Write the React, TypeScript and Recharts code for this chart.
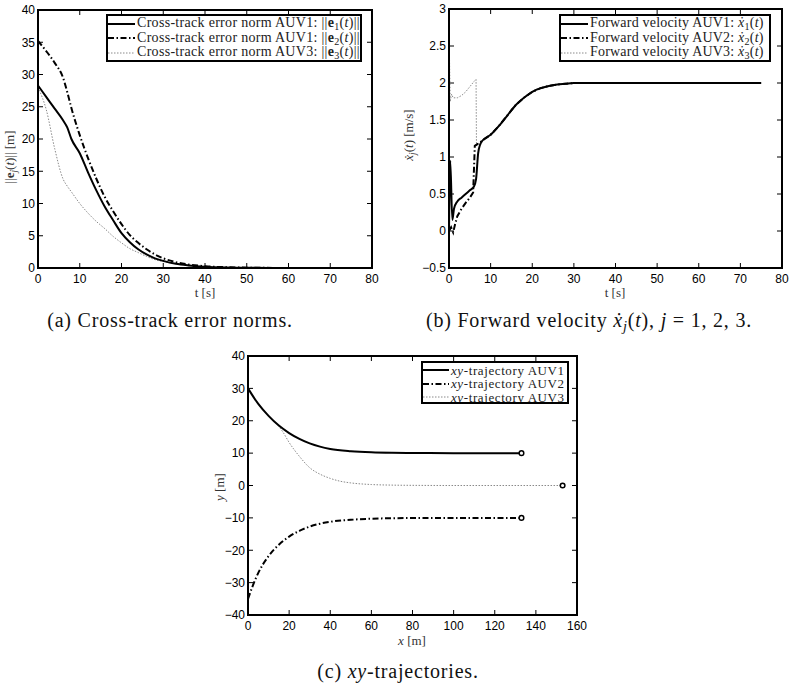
import React from 'react';
import { LineChart, Line, XAxis, YAxis } from 'recharts';

// ---------- (a) cross-track error norms ----------
const timeA = [0, 2, 4, 6, 7, 8, 10, 12, 14, 16, 18, 20, 22, 24, 26, 28, 30, 33, 36, 40, 45, 50, 60, 75];
const errNormAUV1 = [28.3, 26.5, 24.7, 22.9, 21.8, 20.0, 17.8, 14.8, 12.0, 9.5, 7.4, 5.4, 4.0, 2.9, 2.1, 1.5, 1.1, 0.65, 0.4, 0.2, 0.08, 0.03, 0.01, 0];
const errNormAUV2 = [35.2, 33.6, 31.8, 29.5, 27.3, 24.8, 20.6, 17.0, 13.8, 11.0, 8.8, 6.8, 5.1, 3.9, 2.9, 2.1, 1.5, 0.9, 0.55, 0.28, 0.12, 0.05, 0.01, 0];
const errNormAUV3 = [28.0, 24.5, 18.5, 13.8, 12.7, 11.8, 10.0, 8.5, 7.2, 6.1, 4.9, 3.9, 3.0, 2.4, 1.8, 1.3, 1.0, 0.7, 0.45, 0.2, 0.1, 0.05, 0.01, 0];
const ticksAx = [0, 10, 20, 30, 40, 50, 60, 70, 80];
const ticksAy = [0, 5, 10, 15, 20, 25, 30, 35, 40];
const legendA = ['Cross-track error norm AUV1:', 'Cross-track error norm AUV1:', 'Cross-track error norm AUV3:'];

// ---------- (b) forward velocity ----------
const velTailTime = [8, 10, 12, 14, 16, 18, 20, 22, 24, 26, 28, 30, 40, 50, 60, 75];
const velTail = [1.22, 1.3, 1.42, 1.56, 1.7, 1.8, 1.88, 1.93, 1.96, 1.98, 1.99, 2.0, 2.0, 2.0, 2.0, 2.0];
const velTimeAUV1 = [0, 0.3, 0.8, 1.2, 2, 3, 4, 5, 6, 6.5, 7, 7.5];
const velAUV1 = [0, 0.95, 0.15, 0.3, 0.4, 0.45, 0.5, 0.55, 0.6, 0.7, 1.05, 1.17];
const velTimeAUV2 = [0, 0.5, 1, 1.5, 2, 3, 4, 5, 5.8, 6.2, 7, 7.5];
const velAUV2 = [0, 0.05, -0.02, 0.1, 0.2, 0.3, 0.38, 0.45, 0.52, 1.15, 1.18, 1.2];
const velTimeAUV3 = [0, 0.3, 0.6, 1, 2, 3, 4, 5, 6, 6.5, 6.6, 7, 7.5];
const velAUV3 = [2.72, 1.75, 1.85, 1.8, 1.8, 1.83, 1.88, 1.95, 2.02, 2.05, 1.15, 1.18, 1.2];
const ticksBx = [0, 10, 20, 30, 40, 50, 60, 70, 80];
const ticksBy = [-0.5, 0, 0.5, 1, 1.5, 2, 2.5, 3];
const legendB = ['Forward velocity AUV1:', 'Forward velocity AUV2:', 'Forward velocity AUV3:'];

// ---------- (c) xy trajectories ----------
const trajX1 = [0, 5, 10, 15, 20, 25, 30, 35, 40, 50, 60, 70, 80, 100, 133];
const trajY1 = [30, 25.2, 21.5, 18.5, 16.2, 14.4, 13, 12, 11.3, 10.6, 10.25, 10.1, 10.05, 10, 10];
const trajX2 = [0, 2, 5, 10, 15, 20, 25, 30, 35, 40, 50, 60, 70, 80, 100, 133];
const trajY2 = [-35, -31.5, -27, -21.8, -18.3, -15.8, -14, -12.7, -11.8, -11.2, -10.6, -10.25, -10.1, -10.05, -10, -10];
const trajX3 = [0, 5, 10, 14, 17, 20, 25, 30, 35, 40, 45, 50, 60, 70, 80, 100, 153];
const trajY3 = [30, 25.2, 21.5, 19, 16.5, 13.3, 9.0, 5.5, 3.5, 2.2, 1.3, 0.8, 0.3, 0.12, 0.05, 0, 0];
const ticksCx = [0, 20, 40, 60, 80, 100, 120, 140, 160];
const ticksCy = [-40, -30, -20, -10, 0, 10, 20, 30, 40];
const legendC = ['AUV1', 'AUV2', 'AUV3'];

const dataA = timeA.map((t, i) => ({ t, e1: errNormAUV1[i], e2: errNormAUV2[i], e3: errNormAUV3[i] }));
const zip = (xs: number[], ys: number[], kx: string, ky: string) => xs.map((x, i) => ({ [kx]: x, [ky]: ys[i] }));
const dataB1 = zip([...velTimeAUV1, ...velTailTime], [...velAUV1, ...velTail], 't', 'v');
const dataB2 = zip([...velTimeAUV2, ...velTailTime], [...velAUV2, ...velTail], 't', 'v');
const dataB3 = zip([...velTimeAUV3, ...velTailTime], [...velAUV3, ...velTail], 't', 'v');
const dataC1 = zip(trajX1, trajY1, 'x', 'y');
const dataC2 = zip(trajX2, trajY2, 'x', 'y');
const dataC3 = zip(trajX3, trajY3, 'x', 'y');

const SANS = '"Liberation Sans", Arial, sans-serif';
const SERIF = '"Liberation Serif", "DejaVu Serif", serif';
const tickStyle = { fontFamily: SANS, fontSize: 12, fill: '#000' };
const fmt = (v: number) => (v < 0 ? '\u2212' + Math.abs(v) : String(v));

const STYLES = [
  { stroke: '#000', strokeWidth: 2, dash: undefined as string | undefined },
  { stroke: '#000', strokeWidth: 2, dash: '6 2.5 1.5 2.5' },
  { stroke: '#8a8a8a', strokeWidth: 1, dash: '1.5 1.5' },
];

const bottomProps = (key: string, domain: number[], ticks: number[], h: number) => ({
  type: 'number' as const, dataKey: key, domain, ticks, height: h, tickSize: 0, tickMargin: 6,
  tick: tickStyle, tickFormatter: fmt, axisLine: { stroke: '#000', strokeWidth: 2 }, tickLine: false,
});
const leftProps = (domain: number[], ticks: number[], w: number) => ({
  type: 'number' as const, domain, ticks, width: w, tickSize: 0, tickMargin: 3,
  tick: tickStyle, tickFormatter: fmt, axisLine: { stroke: '#000', strokeWidth: 2 }, tickLine: false,
});

// MATLAB-style closed axes box with inward ticks, laid over the plot rectangle
function AxesBox({ left, top, w, h, xDomain, yDomain, xTicks, yTicks }: {
  left: number; top: number; w: number; h: number; xDomain: number[]; yDomain: number[]; xTicks: number[]; yTicks: number[];
}) {
  const sx = (v: number) => ((v - xDomain[0]) / (xDomain[1] - xDomain[0])) * w;
  const sy = (v: number) => h - ((v - yDomain[0]) / (yDomain[1] - yDomain[0])) * h;
  const L = 5;
  return (
    <svg width={w + 4} height={h + 4} style={{ position: 'absolute', left: left - 2, top: top - 2, overflow: 'visible', pointerEvents: 'none' }}>
      <g transform="translate(2,2)" stroke="#000">
        <rect x={0} y={0} width={w} height={h} fill="none" strokeWidth={2} />
        {xTicks.map((t) => (
          <g key={'x' + t} strokeWidth={1}>
            <line x1={sx(t)} y1={h} x2={sx(t)} y2={h - L} />
            <line x1={sx(t)} y1={0} x2={sx(t)} y2={L} />
          </g>
        ))}
        {yTicks.map((v) => (
          <g key={'y' + v} strokeWidth={1}>
            <line x1={0} y1={sy(v)} x2={L} y2={sy(v)} />
            <line x1={w} y1={sy(v)} x2={w - L} y2={sy(v)} />
          </g>
        ))}
      </g>
    </svg>
  );
}

const Sub = ({ children }: { children: React.ReactNode }) => (
  <span style={{ fontSize: '0.72em', position: 'relative', top: '0.3em' }}>{children}</span>
);
const XDot = () => <i>x&#775;</i>;

function LegendBox({ rows, left, top, width, height, rowH, sampleW, fontSize, spacing }: {
  rows: React.ReactNode[]; left: number; top: number; width: number; height: number; rowH: number;
  sampleW: number; fontSize: number; spacing: number;
}) {
  return (
    <div style={{
      position: 'absolute', left, top, width, height, boxSizing: 'border-box', border: '2px solid #000',
      background: '#fff', fontFamily: SERIF, fontSize, color: '#222', paddingTop: 0.5, overflow: 'hidden',
    }}>
      {rows.map((r, i) => (
        <div key={i} style={{ display: 'flex', alignItems: 'center', height: rowH, whiteSpace: 'nowrap', lineHeight: rowH + 'px' }}>
          <svg width={sampleW} height={6} style={{ flex: 'none' }}>
            <line x1={0} y1={3} x2={sampleW} y2={3} stroke={STYLES[i].stroke}
              strokeWidth={STYLES[i].strokeWidth} strokeDasharray={STYLES[i].dash} />
          </svg>
          <span style={{ marginLeft: 2, letterSpacing: spacing }}>{r}</span>
        </div>
      ))}
    </div>
  );
}

const endDot = (len: number) => (p: any) =>
  p.index === len - 1
    ? <circle key={'end' + p.index} cx={p.cx} cy={p.cy} r={2.3} fill="#fff" stroke="#000" strokeWidth={1.5} />
    : <g key={'n' + p.index} />;

const label = (left: number, top: number, rotate: boolean, children: React.ReactNode, size = 13) => (
  <div style={{
    position: 'absolute', left, top, whiteSpace: 'nowrap', fontFamily: SERIF, fontSize: size, color: '#333',
    lineHeight: 1, transform: rotate ? 'translate(-50%,-50%) rotate(-90deg)' : 'translate(-50%,-50%)',
  }}>{children}</div>
);

const caption = (cx: number, cy: number, children: React.ReactNode) => (
  <div style={{
    position: 'absolute', left: cx, top: cy, whiteSpace: 'nowrap', fontFamily: SERIF, fontSize: 20,
    letterSpacing: 0.8, color: '#111', lineHeight: 1, transform: 'translate(-50%,-50%)',
  }}>{children}</div>
);

export default function App() {
  const rowsA = legendA.map((s, i) => (
    <>{s} ||<b>e</b><Sub>{i + 1}</Sub>(<i>t</i>)||</>
  ));
  const rowsB = legendB.map((s, i) => (
    <>{s} <XDot /><Sub>{i + 1}</Sub>(<i>t</i>)</>
  ));
  const rowsC = legendC.map((s) => (
    <><i>xy</i>-trajectory {s}</>
  ));

  return (
    <div style={{ position: 'absolute', left: 0, top: 0, width: 792, height: 684, background: '#fff', overflow: 'hidden' }}>
      {/* (a) plot rect: x 38..372, y 10..268 */}
      <div style={{ position: 'absolute', left: 0, top: 0 }}>
        <LineChart width={400} height={300} data={dataA} margin={{ top: 10, right: 28, bottom: 0, left: 0 }}>
          <XAxis {...bottomProps('t', [0, 80], ticksAx, 32)} />
          <YAxis {...leftProps([0, 40], ticksAy, 38)} />
          <Line dataKey="e3" type="monotone" stroke={STYLES[2].stroke} strokeWidth={STYLES[2].strokeWidth} strokeDasharray={STYLES[2].dash} dot={false} isAnimationActive={false} />
          <Line dataKey="e2" type="monotone" stroke={STYLES[1].stroke} strokeWidth={STYLES[1].strokeWidth} strokeDasharray={STYLES[1].dash} dot={false} isAnimationActive={false} />
          <Line dataKey="e1" type="monotone" stroke={STYLES[0].stroke} strokeWidth={STYLES[0].strokeWidth} dot={false} isAnimationActive={false} />
        </LineChart>
      </div>
      <AxesBox left={38} top={10} w={334} h={258} xDomain={[0, 80]} yDomain={[0, 40]} xTicks={ticksAx} yTicks={ticksAy} />

      {/* (b) plot rect: x 449..782, y 9..268 */}
      <div style={{ position: 'absolute', left: 392, top: 0 }}>
        <LineChart width={400} height={300} margin={{ top: 9, right: 10, bottom: 0, left: 0 }}>
          <XAxis {...bottomProps('t', [0, 80], ticksBx, 32)} />
          <YAxis {...leftProps([-0.5, 3], ticksBy, 57)} />
          <Line data={dataB3} dataKey="v" type="linear" stroke={STYLES[2].stroke} strokeWidth={STYLES[2].strokeWidth} strokeDasharray={STYLES[2].dash} dot={false} isAnimationActive={false} />
          <Line data={dataB2} dataKey="v" type="linear" stroke={STYLES[1].stroke} strokeWidth={STYLES[1].strokeWidth} strokeDasharray={STYLES[1].dash} dot={false} isAnimationActive={false} />
          <Line data={dataB1} dataKey="v" type="monotone" stroke={STYLES[0].stroke} strokeWidth={STYLES[0].strokeWidth} dot={false} isAnimationActive={false} />
        </LineChart>
      </div>
      <AxesBox left={449} top={9} w={333} h={259} xDomain={[0, 80]} yDomain={[-0.5, 3]} xTicks={ticksBx} yTicks={ticksBy} />

      {/* (c) plot rect: x 248..577, y 356..615 */}
      <div style={{ position: 'absolute', left: 190, top: 340 }}>
        <LineChart width={420} height={300} margin={{ top: 16, right: 33, bottom: 0, left: 0 }}>
          <XAxis {...bottomProps('x', [0, 160], ticksCx, 25)} />
          <YAxis {...leftProps([-40, 40], ticksCy, 58)} />
          <Line data={dataC3} dataKey="y" type="monotone" stroke={STYLES[2].stroke} strokeWidth={STYLES[2].strokeWidth} strokeDasharray={STYLES[2].dash} dot={endDot(dataC3.length)} isAnimationActive={false} />
          <Line data={dataC2} dataKey="y" type="monotone" stroke={STYLES[1].stroke} strokeWidth={STYLES[1].strokeWidth} strokeDasharray={STYLES[1].dash} dot={endDot(dataC2.length)} isAnimationActive={false} />
          <Line data={dataC1} dataKey="y" type="monotone" stroke={STYLES[0].stroke} strokeWidth={STYLES[0].strokeWidth} dot={endDot(dataC1.length)} isAnimationActive={false} />
        </LineChart>
      </div>
      <AxesBox left={248} top={356} w={329} h={259} xDomain={[0, 160]} yDomain={[-40, 40]} xTicks={ticksCx} yTicks={ticksCy} />

      {/* legends */}
      <LegendBox rows={rowsA} left={106} top={14} width={256} height={48} rowH={14.5} sampleW={27} fontSize={14} spacing={0.3} />
      <LegendBox rows={rowsB} left={559} top={14} width={212} height={48} rowH={14.5} sampleW={27} fontSize={14} spacing={0.2} />
      <LegendBox rows={rowsC} left={421} top={361} width={148} height={43} rowH={13.5} sampleW={26} fontSize={13} spacing={0.6} />

      {/* axis labels */}
      {label(10, 157, true, <>||<b>e</b><Sub><i>j</i></Sub>(<i>t</i>)|| [m]</>)}
      {label(205, 292, false, <>t [s]</>)}
      {label(409, 135, true, <><XDot /><Sub><i>j</i></Sub>(<i>t</i>) [m/s]</>)}
      {label(615, 292, false, <>t [s]</>)}
      {label(219, 487, true, <><i>y</i> [m]</>)}
      {label(412, 640, false, <><i>x</i> [m]</>)}

      {/* captions */}
      {caption(170, 320, <>(a) Cross-track error norms.</>)}
      {caption(589, 320, <>(b) Forward velocity <XDot /><Sub><i>j</i></Sub>(<i>t</i>), <i>j</i> = 1, 2, 3.</>)}
      {caption(398, 671, <>(c) <i>xy</i>-trajectories.</>)}
    </div>
  );
}
